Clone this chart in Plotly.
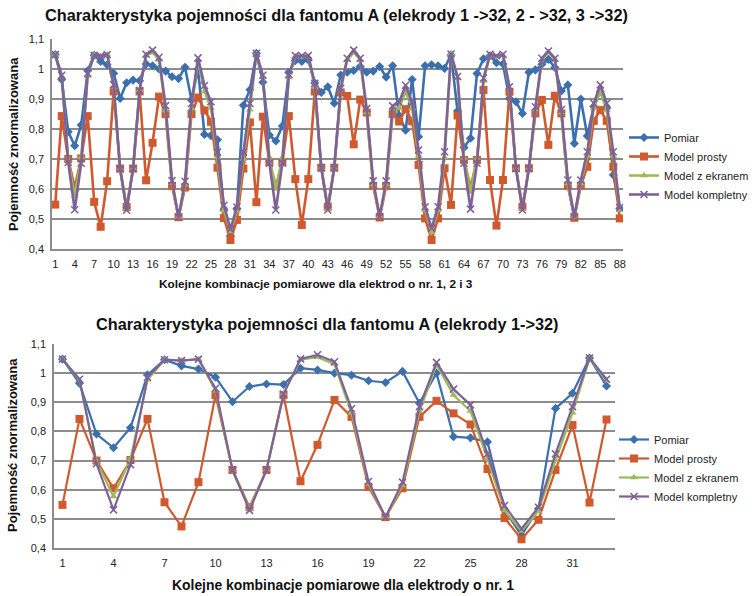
import plotly.graph_objects as go

# ---- data: electrode 1 (points 1-33, also the bottom chart) ----
pomiar_e1 = [1.048, 0.965, 0.791, 0.744, 0.813, 0.994, 1.046, 1.025, 1.014, 0.986, 0.902, 0.954, 0.963, 0.961, 1.017, 1.011, 1.000, 0.993, 0.974, 0.968, 1.006, 0.897, 1.000, 0.782, 0.778, 0.764, 0.530, 0.444, 0.535, 0.879, 0.931, 1.052, 0.956]
prosty_e1 = [0.548, 0.843, 0.700, 0.605, 0.702, 0.843, 0.557, 0.474, 0.626, 0.925, 0.668, 0.540, 0.668, 0.925, 0.629, 0.754, 0.908, 0.850, 0.610, 0.506, 0.605, 0.850, 0.905, 0.862, 0.824, 0.671, 0.503, 0.430, 0.497, 0.668, 0.822, 0.556, 0.841]
ekran_e1 = [1.048, 0.975, 0.698, 0.577, 0.706, 0.977, 1.046, 1.043, 1.048, 0.940, 0.665, 0.535, 0.668, 0.930, 1.046, 1.055, 1.031, 0.862, 0.620, 0.506, 0.615, 0.868, 1.029, 0.925, 0.870, 0.706, 0.529, 0.458, 0.527, 0.700, 0.864, 1.050, 0.974]
kompl_e1 = [1.048, 0.979, 0.689, 0.531, 0.686, 0.986, 1.046, 1.043, 1.048, 0.948, 0.668, 0.529, 0.668, 0.928, 1.049, 1.063, 1.039, 0.878, 0.628, 0.506, 0.626, 0.885, 1.037, 0.945, 0.891, 0.723, 0.546, 0.466, 0.540, 0.723, 0.885, 1.052, 0.979]

# ---- electrode 2 (points 34-63) ----
pomiar_e2 = [0.780, 0.760, 0.810, 0.988, 1.028, 1.025, 1.030, 0.953, 0.922, 0.941, 0.886, 0.980, 0.989, 0.995, 1.008, 0.989, 0.993, 1.008, 0.973, 1.011, 0.845, 0.796, 0.965, 0.774, 1.011, 1.014, 1.011, 1.002, 1.047, 0.860]
prosty_e2 = [0.690, 0.610, 0.690, 0.843, 0.633, 0.480, 0.633, 0.925, 0.671, 0.541, 0.671, 0.922, 0.910, 0.749, 0.898, 0.855, 0.610, 0.505, 0.610, 0.850, 0.825, 0.866, 0.826, 0.680, 0.502, 0.430, 0.502, 0.669, 0.547, 0.845]
ekran_e2 = [0.705, 0.600, 0.705, 0.972, 1.042, 1.040, 1.042, 0.940, 0.668, 0.535, 0.668, 0.930, 1.030, 1.055, 1.030, 0.855, 0.615, 0.508, 0.615, 0.868, 0.870, 0.925, 0.869, 0.710, 0.530, 0.455, 0.530, 0.705, 1.050, 0.970]
kompl_e2 = [0.686, 0.530, 0.686, 0.982, 1.045, 1.044, 1.045, 0.952, 0.671, 0.530, 0.671, 0.936, 1.036, 1.063, 1.036, 0.868, 0.627, 0.508, 0.627, 0.877, 0.889, 0.946, 0.889, 0.730, 0.541, 0.469, 0.541, 0.724, 1.050, 0.975]

# ---- electrode 3 (points 64-88) ----
pomiar_e3 = [0.738, 0.769, 0.985, 1.034, 1.044, 1.021, 1.017, 0.902, 0.891, 0.852, 0.989, 0.997, 1.016, 1.032, 1.005, 0.927, 0.947, 0.752, 0.900, 0.777, 0.875, 0.925, 0.870, 0.647, 0.536]
prosty_e3 = [0.697, 0.605, 0.697, 0.930, 0.630, 0.478, 0.630, 0.924, 0.669, 0.541, 0.669, 0.852, 0.897, 0.747, 0.911, 0.852, 0.611, 0.504, 0.611, 0.674, 0.827, 0.863, 0.827, 0.674, 0.502]
ekran_e3 = [0.702, 0.590, 0.702, 0.960, 1.045, 1.040, 1.045, 0.935, 0.668, 0.535, 0.668, 0.865, 1.030, 1.055, 1.030, 0.855, 0.618, 0.506, 0.618, 0.710, 0.869, 0.927, 0.863, 0.710, 0.530]
kompl_e3 = [0.686, 0.533, 0.686, 0.970, 1.049, 1.044, 1.049, 0.941, 0.669, 0.530, 0.669, 0.874, 1.036, 1.060, 1.036, 0.865, 0.630, 0.508, 0.630, 0.724, 0.886, 0.947, 0.886, 0.724, 0.538]

series_names = ["Pomiar", "Model prosty", "Model z ekranem", "Model kompletny"]
y_tickvals = [1.1, 1.0, 0.9, 0.8, 0.7, 0.6, 0.5, 0.4]
y_ticktext = ["1,1", "1", "0,9", "0,8", "0,7", "0,6", "0,5", "0,4"]

top_series = [pomiar_e1 + pomiar_e2 + pomiar_e3,
              prosty_e1 + prosty_e2 + prosty_e3,
              ekran_e1 + ekran_e2 + ekran_e3,
              kompl_e1 + kompl_e2 + kompl_e3]
bot_series = [pomiar_e1, prosty_e1, ekran_e1, kompl_e1]

x_top = list(range(1, len(top_series[0]) + 1))
x_bot = list(range(1, len(bot_series[0]) + 1))

colors = ["#3b6fae", "#d0592e", "#9bbb59", "#7f6199"]
symbols = ["diamond", "square", "triangle-up", "x-thin"]
msizes = [7, 8, 7, 7]

FONT = "Liberation Sans, Arial, sans-serif"
W, H = 754, 596

fig = go.Figure()

def add_set(xs, series, xa, ya, legend, lw):
    for i, (name, ys) in enumerate(zip(series_names, series)):
        marker = dict(symbol=symbols[i], size=msizes[i], color=colors[i])
        if symbols[i] == "x-thin":
            marker["line"] = dict(color=colors[i], width=1.6)
        fig.add_trace(go.Scatter(
            x=xs, y=ys, name=name, mode="lines+markers",
            line=dict(color=colors[i], width=lw),
            marker=marker, xaxis=xa, yaxis=ya, legend=legend))

add_set(x_top, top_series, "x", "y", "legend", 2.6)
add_set(x_bot, bot_series, "x2", "y2", "legend2", 2.2)

def px_x(p):
    return p / W

def px_y(p):
    return 1 - p / H

grid = dict(showgrid=True, gridcolor="#8c8c8c", gridwidth=1.6)
yax_common = dict(range=[0.4, 1.1], tickvals=y_tickvals, ticktext=y_ticktext,
                  showline=True, linecolor="#8c8c8c", linewidth=1.6,
                  zeroline=False, ticks="", ticklabelstandoff=4,
                  tickfont=dict(size=11, color="#222", family=FONT),
                  **grid)
xax_common = dict(showgrid=False, zeroline=False, showline=True, linecolor="#8c8c8c",
                  linewidth=1.6, ticks="", ticklabelstandoff=4,
                  tickfont=dict(size=11, color="#222", family=FONT))

fig.update_layout(
    width=W, height=H,
    margin=dict(l=0, r=0, t=0, b=0, autoexpand=False),
    paper_bgcolor="white", plot_bgcolor="white",
    font=dict(family=FONT, color="#222"),
    xaxis=dict(domain=[px_x(52), px_x(623)], range=[0.5, 88.5],
               tickvals=list(range(1, 89, 3)), anchor="y", **xax_common),
    yaxis=dict(domain=[px_y(249), px_y(39)], anchor="x", **yax_common),
    xaxis2=dict(domain=[px_x(54), px_x(615)], range=[0.5, 33.5],
                tickvals=list(range(1, 34, 3)), anchor="y2", **xax_common),
    yaxis2=dict(domain=[px_y(548), px_y(344)], anchor="x2", **yax_common),
    legend=dict(x=1.0, y=px_y(123), xanchor="right", yanchor="top",
                font=dict(size=11, family=FONT, color="#222"),
                bgcolor="rgba(0,0,0,0)", tracegroupgap=0),
    legend2=dict(x=px_x(614), y=px_y(425), xanchor="left", yanchor="top",
                 font=dict(size=11, family=FONT, color="#222"),
                 bgcolor="rgba(0,0,0,0)", tracegroupgap=0),
    showlegend=True,
)

annots = [
    dict(text="<b>Charakterystyka pojemności dla fantomu A (elekrody 1 ->32, 2 - >32, 3 ->32)</b>",
         x=px_x(336), y=px_y(15), size=16.3),
    dict(text="<b>Charakterystyka pojemności dla fantomu A (elekrody 1->32)</b>",
         x=px_x(327), y=px_y(324), size=16.3),
    dict(text="<b>Kolejne kombinacje pomiarowe dla elektrod o nr. 1, 2 i 3</b>",
         x=px_x(316), y=px_y(284), size=11.8),
    dict(text="<b>Kolejne kombinacje pomiarowe dla elektrody o nr. 1</b>",
         x=px_x(343), y=px_y(585), size=13.9),
]
for a in annots:
    fig.add_annotation(text=a["text"], x=a["x"], y=a["y"], xref="paper", yref="paper",
                       showarrow=False, xanchor="center", yanchor="middle",
                       font=dict(size=a["size"], family=FONT, color="#111"))

for yc in (144, 445):
    fig.add_annotation(text="<b>Pojemność znormalizowana</b>", x=px_x(13), y=px_y(yc),
                       xref="paper", yref="paper", showarrow=False, textangle=-90,
                       xanchor="center", yanchor="middle",
                       font=dict(size=13, family=FONT, color="#111"))

fig.write_html("out.html", config={"displayModeBar": False},
               post_script="document.body.style.margin='0';document.body.style.overflow='hidden';")
